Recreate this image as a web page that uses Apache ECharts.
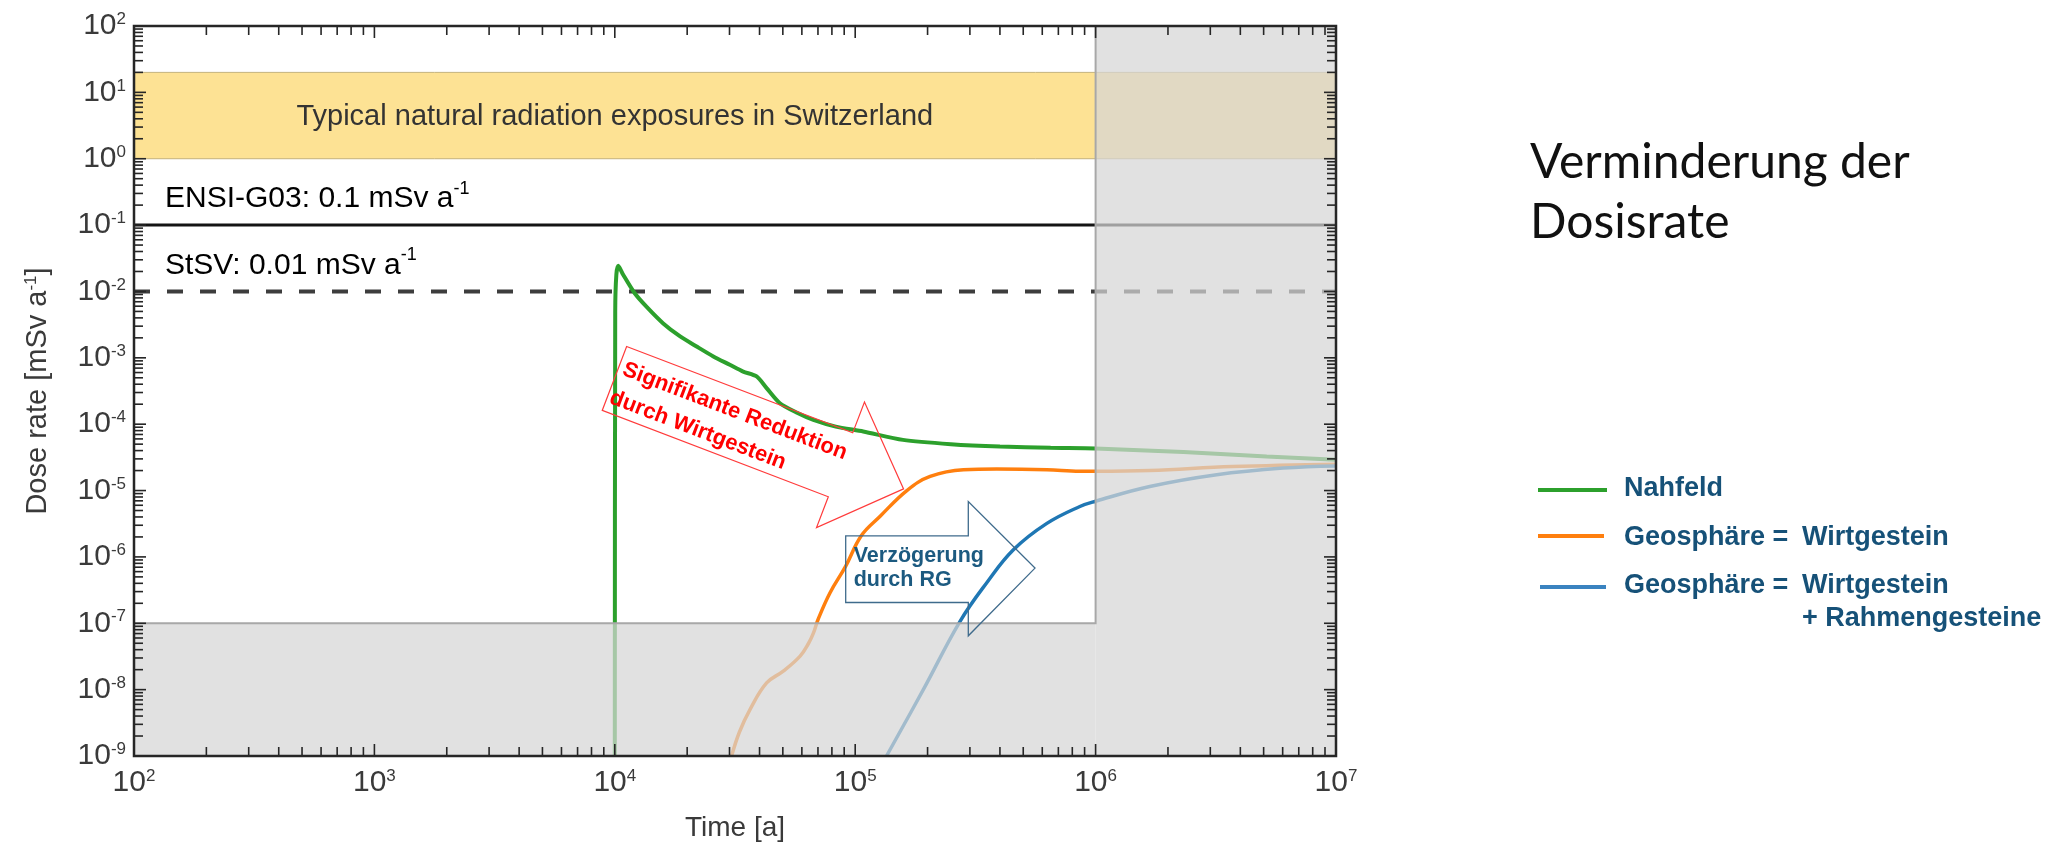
<!DOCTYPE html>
<html>
<head>
<meta charset="utf-8">
<script src="https://cdn.jsdelivr.net/npm/echarts@6/dist/echarts.min.js"></script>
<style>
  html, body { margin: 0; padding: 0; background: #ffffff; }
  #chart { width: 2049px; height: 851px; }
</style>
</head>
<body>
<div id="chart"></div>
<script>
// ---- Dose rate curves (time in years, dose rate in mSv per year) ----
const nahfeldTime = [1e4, 1.004e4, 1.015e4, 1.034e4, 1.084e4, 1.21e4, 1.36e4, 1.59e4, 1.87e4, 2.19e4, 2.57e4, 3.01e4, 3.42e4, 3.89e4, 4.28e4, 4.86e4, 5.7e4, 6.7e4, 8.3e4, 1.08e5, 1.58e5, 2.5e5, 4e5, 6.5e5, 1e6, 2.32e6, 5.15e6, 1e7];
const nahfeldDose = [1e-9, 5e-3, 1.8e-2, 2.43e-2, 1.78e-2, 9.4e-3, 5.8e-3, 3.3e-3, 2.1e-3, 1.48e-3, 1.05e-3, 7.85e-4, 6.2e-4, 5.24e-4, 3.5e-4, 2.07e-4, 1.5e-4, 1.16e-4, 9.2e-5, 7.76e-5, 5.8e-5, 5.0e-5, 4.6e-5, 4.4e-5, 4.3e-5, 3.8e-5, 3.27e-5, 2.9e-5];

const wirtTime = [3.06e4, 3.3e4, 3.65e4, 4.28e4, 5.02e4, 5.9e4, 6.4e4, 6.7e4, 7.0e4, 7.85e4, 9.12e4, 1.06e5, 1.27e5, 1.64e5, 2.05e5, 2.82e5, 3.88e5, 6.27e5, 8.6e5, 1e6, 1.68e6, 3.7e6, 1e7];
const wirtDose = [1e-9, 2.3e-9, 5e-9, 1.26e-8, 1.9e-8, 3.2e-8, 5e-8, 7.1e-8, 1.13e-7, 2.86e-7, 7.2e-7, 2.09e-6, 4.1e-6, 1e-5, 1.63e-5, 2.06e-5, 2.11e-5, 2.06e-5, 1.95e-5, 1.95e-5, 2.0e-5, 2.3e-5, 2.5e-5];

const rahmenTime = [1.35e5, 1.92e5, 2.73e5, 3.52e5, 4.55e5, 6.27e5, 8.6e5, 1e6, 1.68e6, 3.19e6, 6.04e6, 1e7];
const rahmenDose = [1e-9, 1e-8, 1.07e-7, 4.05e-7, 1.28e-6, 3.2e-6, 5.75e-6, 6.9e-6, 1.15e-5, 1.73e-5, 2.18e-5, 2.35e-5];

// ---- Reference levels ----
const ensiLimit = 0.1;          // ENSI-G03 guideline
const stsvLimit = 0.01;         // StSV
const naturalLow = 1;           // natural exposure band
const naturalHigh = 20;

// ---- Axis ranges and the region outside the assessment ----
const timeRange = [1e2, 1e7];
const doseRange = [1e-9, 1e2];
const assessmentEnd = 1e6;      // years
const doseFloor = 1e-7;         // mSv/a

const seriesNames = ['Nahfeld', 'Geosphäre =  Wirtgestein', 'Geosphäre =  Wirtgestein + Rahmengesteine'];
const COLORS = { green: '#2ca02c', orange: '#ff7f0e', blue: '#1f77b4' };

const NARROW = "'Liberation Sans Narrow', 'Arial Narrow', 'Liberation Sans', sans-serif";
const SANS = "'Liberation Sans', Arial, sans-serif";
const TITLE_FONT = "Lato, 'Open Sans', sans-serif";
const LABEL_GREY = '#3a3a3a';
const NAVY = '#165178';

function zip(xs, ys) { return xs.map((x, i) => [x, ys[i]]); }

// decade labels written as powers of ten
function powLabel(v) {
  const e = Math.round(Math.log10(v));
  return '{b|10}{s|' + e + '}';
}
const tickRich = {
  b: { fontFamily: NARROW, fontSize: 30, color: LABEL_GREY },
  s: { fontFamily: NARROW, fontSize: 17, color: LABEL_GREY, verticalAlign: 'top' }
};

// tick positions (1..9 x 10^k) for the frame on all four sides
function logTicks(lo, hi) {
  const out = [];
  for (let k = Math.round(Math.log10(lo)); k < Math.round(Math.log10(hi)); k++) {
    for (let m = 1; m <= 9; m++) out.push([m * Math.pow(10, k), m === 1]);
  }
  out.push([hi, true]);
  return out;
}
const xTicks = logTicks(timeRange[0], timeRange[1]);
const yTicks = logTicks(doseRange[0], doseRange[1]);

function rectBetween(api, x0, y0, x1, y1) {
  const a = api.coord([x0, y0]);
  const b = api.coord([x1, y1]);
  return {
    x: Math.min(a[0], b[0]), y: Math.min(a[1], b[1]),
    width: Math.abs(b[0] - a[0]), height: Math.abs(b[1] - a[1])
  };
}

// yellow band of typical natural exposure, with its caption
function renderBand(params, api) {
  const r = rectBetween(api, timeRange[0], naturalLow, timeRange[1], naturalHigh);
  const c = api.coord([Math.sqrt(timeRange[0] * assessmentEnd), Math.sqrt(naturalLow * naturalHigh)]);
  return {
    type: 'group',
    children: [
      { type: 'rect', shape: r, style: { fill: '#fde294', stroke: '#c4b27c', lineWidth: 1 } },
      { type: 'text', x: c[0], y: c[1] + 1,
        style: { text: 'Typical natural radiation exposures in Switzerland', fontFamily: SANS, fontSize: 29,
                 fill: '#333333', align: 'center', verticalAlign: 'middle' } }
    ]
  };
}

// grey veil outside the assessment window, drawn over the curves
function renderVeil(params, api) {
  const right = rectBetween(api, assessmentEnd, doseRange[0], timeRange[1], doseRange[1]);
  const below = rectBetween(api, timeRange[0], doseRange[0], assessmentEnd, doseFloor);
  const p1 = api.coord([assessmentEnd, doseRange[1]]);
  const p2 = api.coord([assessmentEnd, doseFloor]);
  const p3 = api.coord([timeRange[0], doseFloor]);
  const veil = 'rgba(214,214,214,0.72)';
  return {
    type: 'group',
    children: [
      { type: 'rect', shape: right, style: { fill: veil } },
      { type: 'rect', shape: below, style: { fill: veil } },
      { type: 'polyline', shape: { points: [p1, p2, p3] }, style: { stroke: '#a8a8a8', lineWidth: 2, fill: null } }
    ]
  };
}

// captions of the two regulatory lines
function renderLimitLabels(params, api) {
  const supRich = {
    t: { fontFamily: SANS, fontSize: 30, color: '#333333', lineHeight: 38 },
    s: { fontFamily: SANS, fontSize: 18, color: '#333333', verticalAlign: 'top', lineHeight: 38 }
  };
  const a = api.coord([timeRange[0], ensiLimit]);
  const b = api.coord([timeRange[0], stsvLimit]);
  return {
    type: 'group',
    children: [
      { type: 'text', x: a[0] + 31, y: a[1] - 26,
        style: { text: '{t|ENSI-G03: 0.1 mSv a}{s|-1}', rich: supRich, align: 'left', verticalAlign: 'middle' } },
      { type: 'text', x: b[0] + 31, y: b[1] - 26,
        style: { text: '{t|StSV: 0.01 mSv a}{s|-1}', rich: supRich, align: 'left', verticalAlign: 'middle' } }
    ]
  };
}

// annotation arrows, anchored in data space
const redArrowAt = [1.12e4, 1.48e-3];
const blueArrowAt = [9.13e4, 2.08e-6];
function renderArrows(params, api) {
  const r = api.coord(redArrowAt);
  const b = api.coord(blueArrowAt);
  const ang = 20.9 * Math.PI / 180;
  return {
    type: 'group',
    children: [
      {
        type: 'group', x: r[0], y: r[1], rotation: -ang,
        children: [
          { type: 'polygon',
            shape: { points: [[0, 0], [242, 0], [242, -33], [309.5, 34.2], [242, 101.4], [242, 68.4], [0, 68.4]] },
            style: { fill: null, stroke: '#ff3b3b', lineWidth: 1.2 } },
          { type: 'text', x: 5, y: 22,
            style: { text: 'Signifikante Reduktion', fontFamily: SANS, fontWeight: 'bold', fontSize: 22,
                     fill: '#ff0000', align: 'left', verticalAlign: 'middle' } },
          { type: 'text', x: 3, y: 53,
            style: { text: 'durch Wirtgestein', fontFamily: SANS, fontWeight: 'bold', fontSize: 22,
                     fill: '#ff0000', align: 'left', verticalAlign: 'middle' } }
        ]
      },
      {
        type: 'group', x: b[0], y: b[1],
        children: [
          { type: 'polygon',
            shape: { points: [[0, 0], [122.6, 0], [122.6, -34.3], [189.3, 32.3], [122.6, 100], [122.6, 66.7], [0, 66.7]] },
            style: { fill: null, stroke: '#3f6b8c', lineWidth: 1.3 } },
          { type: 'text', x: 8, y: 20,
            style: { text: 'Verzögerung', fontFamily: SANS, fontWeight: 'bold', fontSize: 21.5,
                     fill: '#1c5a80', align: 'left', verticalAlign: 'middle' } },
          { type: 'text', x: 8, y: 44,
            style: { text: 'durch RG', fontFamily: SANS, fontWeight: 'bold', fontSize: 21.5,
                     fill: '#1c5a80', align: 'left', verticalAlign: 'middle' } }
        ]
      }
    ]
  };
}

// plot frame with inward ticks on all four sides
function renderFrame(params, api) {
  const cs = params.coordSys;
  const L = cs.x, T = cs.y, R = cs.x + cs.width, B = cs.y + cs.height;
  const children = [];
  const tick = (x1, y1, x2, y2) => children.push({
    type: 'line', shape: { x1, y1, x2, y2 }, style: { stroke: '#262626', lineWidth: 1.6 }
  });
  xTicks.forEach(([v, major]) => {
    const px = api.coord([v, 1])[0];
    const len = major ? 12 : 9;
    tick(px, B, px, B - len);
    tick(px, T, px, T + len);
  });
  yTicks.forEach(([v, major]) => {
    const py = api.coord([1e3, v])[1];
    const len = major ? 12 : 9;
    tick(L, py, L + len, py);
    tick(R, py, R - len, py);
  });
  children.push({ type: 'rect', shape: { x: L, y: T, width: cs.width, height: cs.height },
                  style: { fill: null, stroke: '#262626', lineWidth: 2.5 } });
  return { type: 'group', children };
}

const chart = echarts.init(document.getElementById('chart'), null, { renderer: 'canvas' });

const option = {
  animation: false,
  backgroundColor: '#ffffff',
  grid: { left: 134, top: 26, width: 1202, height: 730, containLabel: false },
  xAxis: {
    type: 'log', logBase: 10, min: timeRange[0], max: timeRange[1], interval: 1,
    name: 'Time [a]', nameLocation: 'middle', nameGap: 58,
    nameTextStyle: { fontFamily: SANS, fontSize: 28, color: LABEL_GREY },
    axisLine: { show: false }, axisTick: { show: false }, splitLine: { show: false },
    axisLabel: { margin: 12, formatter: powLabel, rich: tickRich }
  },
  yAxis: {
    type: 'log', logBase: 10, min: doseRange[0], max: doseRange[1], interval: 1,
    name: '{n|Dose rate [mSv a}{s|-1}{n|]}', nameLocation: 'middle', nameGap: 82,
    nameTextStyle: {
      rich: {
        n: { fontFamily: SANS, fontSize: 29, color: LABEL_GREY },
        s: { fontFamily: SANS, fontSize: 17, color: LABEL_GREY, verticalAlign: 'top' }
      }
    },
    axisLine: { show: false }, axisTick: { show: false }, splitLine: { show: false },
    axisLabel: { margin: 8, formatter: powLabel, rich: tickRich }
  },
  series: [
    { type: 'custom', name: 'band', z: 1, silent: true, renderItem: renderBand, data: [[1e3, 1]] },
    { type: 'line', name: 'ENSI-G03', z: 2, silent: true, showSymbol: false,
      data: [[timeRange[0], ensiLimit], [timeRange[1], ensiLimit]],
      lineStyle: { color: '#141414', width: 3 } },
    { type: 'line', name: 'StSV', z: 2, silent: true, showSymbol: false,
      data: [[timeRange[0], stsvLimit], [timeRange[1], stsvLimit]],
      lineStyle: { color: '#3d3d3d', width: 4, type: [16, 17] } },
    { type: 'line', name: seriesNames[0], z: 3, showSymbol: false, smooth: 0.25,
      data: zip(nahfeldTime, nahfeldDose), lineStyle: { color: COLORS.green, width: 4 }, itemStyle: { color: COLORS.green } },
    { type: 'line', name: seriesNames[1], z: 3, showSymbol: false, smooth: 0.4,
      data: zip(wirtTime, wirtDose), lineStyle: { color: COLORS.orange, width: 3.5 }, itemStyle: { color: COLORS.orange } },
    { type: 'line', name: seriesNames[2], z: 3, showSymbol: false, smooth: 0.4,
      data: zip(rahmenTime, rahmenDose), lineStyle: { color: COLORS.blue, width: 3.5 }, itemStyle: { color: COLORS.blue } },
    { type: 'custom', name: 'veil', z: 5, silent: true, renderItem: renderVeil, data: [[1e3, 1]] },
    { type: 'custom', name: 'limit labels', z: 6, silent: true, renderItem: renderLimitLabels, data: [[1e3, 1]] },
    { type: 'custom', name: 'arrows', z: 7, silent: true, renderItem: renderArrows, data: [[1e3, 1]] },
    { type: 'custom', name: 'frame', z: 10, silent: true, renderItem: renderFrame, data: [[1e3, 1]] }
  ],
  graphic: [
    // heading
    { type: 'text', left: 1530, top: 133,
      style: { text: 'Verminderung der\nDosisrate', fontFamily: TITLE_FONT, fontSize: 48, lineHeight: 60, fill: '#111111' } },
    // legend
    { type: 'line', shape: { x1: 1538, y1: 490, x2: 1607, y2: 490 }, style: { stroke: COLORS.green, lineWidth: 4 } },
    { type: 'line', shape: { x1: 1538, y1: 536, x2: 1604, y2: 536 }, style: { stroke: COLORS.orange, lineWidth: 4 } },
    { type: 'line', shape: { x1: 1540, y1: 587, x2: 1606, y2: 587 }, style: { stroke: '#3a83c0', lineWidth: 4 } },
    { type: 'text', x: 1624, y: 489, style: { text: 'Nahfeld', fontFamily: SANS, fontWeight: 'bold', fontSize: 27, fill: NAVY, verticalAlign: 'middle' } },
    { type: 'text', x: 1624, y: 538, style: { text: 'Geosphäre =', fontFamily: SANS, fontWeight: 'bold', fontSize: 27, fill: NAVY, verticalAlign: 'middle' } },
    { type: 'text', x: 1802, y: 538, style: { text: 'Wirtgestein', fontFamily: SANS, fontWeight: 'bold', fontSize: 27, fill: NAVY, verticalAlign: 'middle' } },
    { type: 'text', x: 1624, y: 586, style: { text: 'Geosphäre =', fontFamily: SANS, fontWeight: 'bold', fontSize: 27, fill: NAVY, verticalAlign: 'middle' } },
    { type: 'text', x: 1802, y: 586, style: { text: 'Wirtgestein', fontFamily: SANS, fontWeight: 'bold', fontSize: 27, fill: NAVY, verticalAlign: 'middle' } },
    { type: 'text', x: 1802, y: 619, style: { text: '+ Rahmengesteine', fontFamily: SANS, fontWeight: 'bold', fontSize: 27, fill: NAVY, verticalAlign: 'middle' } }
  ]
};

chart.setOption(option);
</script>
</body>
</html>
